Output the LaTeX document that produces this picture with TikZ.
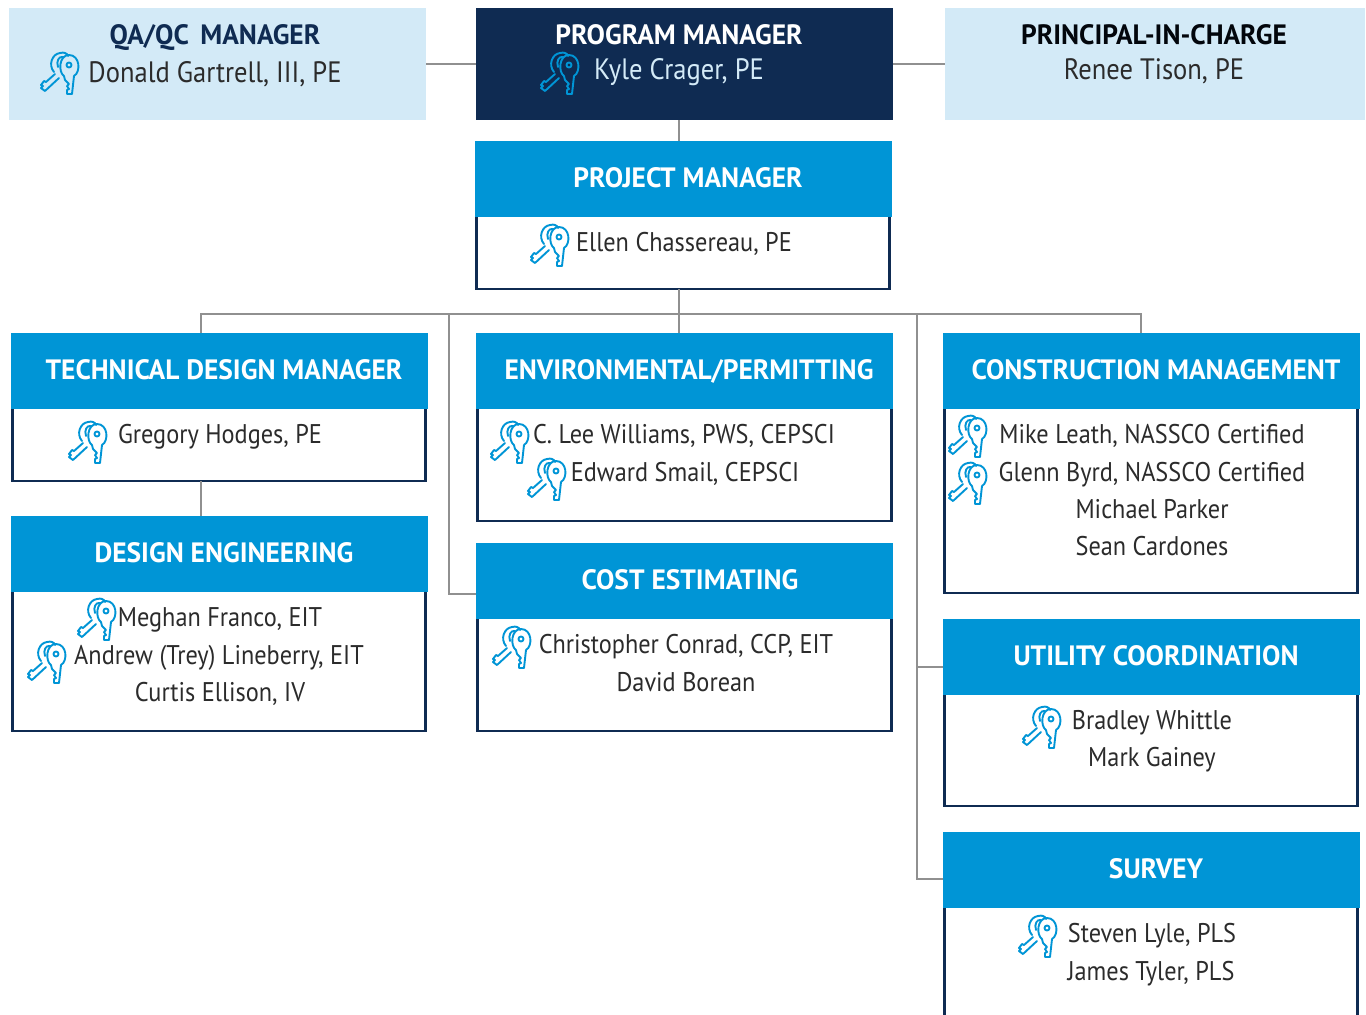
\documentclass[tikz,border=0pt]{standalone}
\usepackage{fontspec}
\setmainfont{PT Sans}[FakeStretch=0.9]
\newfontfamily\titlefont{PT Sans}[FakeStretch=0.98]
\usetikzlibrary{positioning,calc}

\definecolor{keyblue}{HTML}{0095D6}
\definecolor{navyblue}{HTML}{0F2B52}
\definecolor{paleblue}{HTML}{D3EAF7}
\definecolor{linegray}{HTML}{909090}
\definecolor{nametext}{HTML}{2B2B2B}

\tikzset{
	headbox/.style={fill=keyblue, minimum width=417pt, minimum height=76pt, inner sep=0pt, outer sep=0pt},
	topbox/.style={minimum height=112pt, inner sep=0pt, outer sep=0pt},
	bodybox/.style={draw=navyblue, line width=2.5pt, fill=white, minimum width=413pt, inner sep=0pt, outer sep=0pt},
	titletext/.style={font=\titlefont\fontsize{28}{30}\selectfont\bfseries, text=white, inner sep=0pt, text height=19.5pt, text depth=0pt},
	nametxt/.style={font=\fontsize{27}{30}\selectfont, text=nametext, inner sep=0pt, text height=19pt, text depth=0pt},
	bigname/.style={nametxt, font=\fontsize{29.5}{32}\selectfont},
	wire/.style={draw=linegray, line width=1.3pt},
	pics/keyicon/.style={code={
		\draw[keyblue, line width=1.9pt, line join=round, line cap=round]
			% back key
			(-6,-1) .. controls (-12,-8) and (-8,-19) .. (0,-20) .. controls (4,-21) and (7,-20) .. (8,-17)
			(-2,-6) .. controls (-4,-12) and (-1,-17) .. (3,-16)
			(-5,1) -- (-14,9) -- (-16,8) -- (-19,12) -- (-17,13) -- (-19,15) -- (-15,18) -- (-1,5)
			% front key
			(4,3) .. controls (-2,-1) and (-1,-18) .. (9,-18) .. controls (20,-18) and (21,-1) .. (14,3)
			(4,3) -- (5,7) (14,3) -- (12,21) -- (7,21) -- (7,17) -- (9,16) -- (7,13) -- (9,11) -- (7,9) -- (5,7)
			(9,-8) circle (2.5pt);
	}}
}

\begin{document}
\begin{tikzpicture}[x=1pt,y=-1pt]
	\useasboundingbox (0,0) rectangle (1366,1015);
	\clip (0,0) rectangle (1366,1015);

	% top row
	\node[topbox, fill=paleblue, minimum width=417pt] (qabox) at (217.5,64) {};
	\node[topbox, fill=navyblue, minimum width=417pt] (programbox) at (684.5,64) {};
	\node[topbox, fill=paleblue, minimum width=420pt] (principalbox) at (1155,64) {};
	\node[titletext, text=navyblue] (qatitle) at (215,35) {QA/QC\, MANAGER};
	\node[titletext] (programtitle) at (679,35) {PROGRAM MANAGER};
	\node[titletext, text=black!85!navyblue] (principaltitle) at (1154,35) {PRINCIPAL-IN-CHARGE};
	\node[bigname] (donald) at (215,73) {Donald Gartrell, III, PE};
	\node[bigname, text=paleblue] (kyle) at (679,70) {Kyle Crager, PE};
	\node[bigname] (renee) at (1154,70) {Renee Tison, PE};

	% boxes with a head and a body
	\node[bodybox, minimum height=79pt] (projectbody) at (683,249.5) {};
	\node[headbox] (projecthead) at (683.5,179) {};
	\node[bodybox, minimum height=81pt] (techbody) at (219,440.5) {};
	\node[headbox] (techhead) at (219.5,371) {};
	\node[bodybox, minimum height=121pt, minimum width=414pt] (envbody) at (684.5,460.5) {};
	\node[headbox] (envhead) at (684.5,371) {};
	\node[bodybox, minimum height=193pt] (constbody) at (1151,496.5) {};
	\node[headbox] (consthead) at (1151.5,371) {};
	\node[bodybox, minimum height=148pt] (designbody) at (219,657) {};
	\node[headbox] (designhead) at (219.5,554) {};
	\node[bodybox, minimum height=121pt, minimum width=414pt] (costbody) at (684.5,670.5) {};
	\node[headbox] (costhead) at (684.5,581) {};
	\node[bodybox, minimum height=120pt] (utilbody) at (1151,746) {};
	\node[headbox] (utilhead) at (1151.5,657) {};
	\node[bodybox, minimum height=140pt] (surveybody) at (1151,970) {};
	\node[headbox] (surveyhead) at (1151.5,870) {};

	\node[titletext] (projecttitle) at (688,178) {PROJECT MANAGER};
	\node[titletext] (techtitle) at (224,370) {TECHNICAL DESIGN MANAGER};
	\node[titletext] (envtitle) at (689,370) {ENVIRONMENTAL/PERMITTING};
	\node[titletext] (consttitle) at (1156,370) {CONSTRUCTION MANAGEMENT};
	\node[titletext] (designtitle) at (224,553) {DESIGN ENGINEERING};
	\node[titletext] (costtitle) at (690,580) {COST ESTIMATING};
	\node[titletext] (utiltitle) at (1156,656) {UTILITY COORDINATION};
	\node[titletext] (surveytitle) at (1156,869) {SURVEY};

	\node[nametxt] (ellen) at (684,242) {Ellen Chassereau, PE};
	\node[nametxt] (gregory) at (220,434) {Gregory Hodges, PE};
	\node[nametxt] (lee) at (684,434) {C. Lee Williams, PWS, CEPSCI};
	\node[nametxt] (edward) at (685,472) {Edward Smail, CEPSCI};
	\node[nametxt] (mike) at (1152,434) {Mike Leath, NASSCO Certified};
	\node[nametxt] (glenn) at (1152,472) {Glenn Byrd, NASSCO Certified};
	\node[nametxt] (michael) at (1152,509) {Michael Parker};
	\node[nametxt] (sean) at (1152,546) {Sean Cardones};
	\node[nametxt] (meghan) at (220,617) {Meghan Franco, EIT};
	\node[nametxt] (andrew) at (219,655) {Andrew (Trey) Lineberry, EIT};
	\node[nametxt] (curtis) at (220,692) {Curtis Ellison, IV};
	\node[nametxt] (christopher) at (686,644) {Christopher Conrad, CCP, EIT};
	\node[nametxt] (david) at (686,682) {David Borean};
	\node[nametxt] (bradley) at (1152,720) {Bradley Whittle};
	\node[nametxt] (mark) at (1152,757) {Mark Gainey};
	\node[nametxt] (steven) at (1152,933) {Steven Lyle, PLS};
	\node[nametxt] (james) at (1151,971) {James Tyler, PLS};

	% keys
	\foreach \keyx/\keyy in {60/73,560/73,550/245,88/442,510/442,547/479,968/436,968/483,97/619,47/662,512/647,1042/727,1038/936}
		\pic at (\keyx,\keyy) {keyicon};

	% connectors
	\coordinate (bus) at (679,314);
	\coordinate (techdrop) at (201,314);
	\coordinate (costdrop) at (449,314);
	\coordinate (sidedrop) at (917,314);
	\coordinate (constdrop) at (1141,314);
	\draw[wire] (qabox.east |- 0,64) -- (programbox.west |- 0,64);
	\draw[wire] (programbox.east |- 0,64) -- (principalbox.west |- 0,64);
	\draw[wire] (bus |- programbox.south) -- (bus |- projecthead.north);
	\draw[wire] (bus |- projectbody.south) -- (bus |- envhead.north);
	\draw[wire] (techhead.north -| techdrop) -- (techdrop) -- (constdrop) -- (consthead.north -| constdrop);
	\draw[wire] (techbody.south -| techdrop) -- (designhead.north -| techdrop);
	\draw[wire] (costdrop) |- (costhead.west |- 0,594);
	\draw[wire] (sidedrop) |- (surveyhead.west |- 0,879);
	\draw[wire] (sidedrop |- 0,667) -- (utilhead.west |- 0,667);
\end{tikzpicture}
\end{document}
